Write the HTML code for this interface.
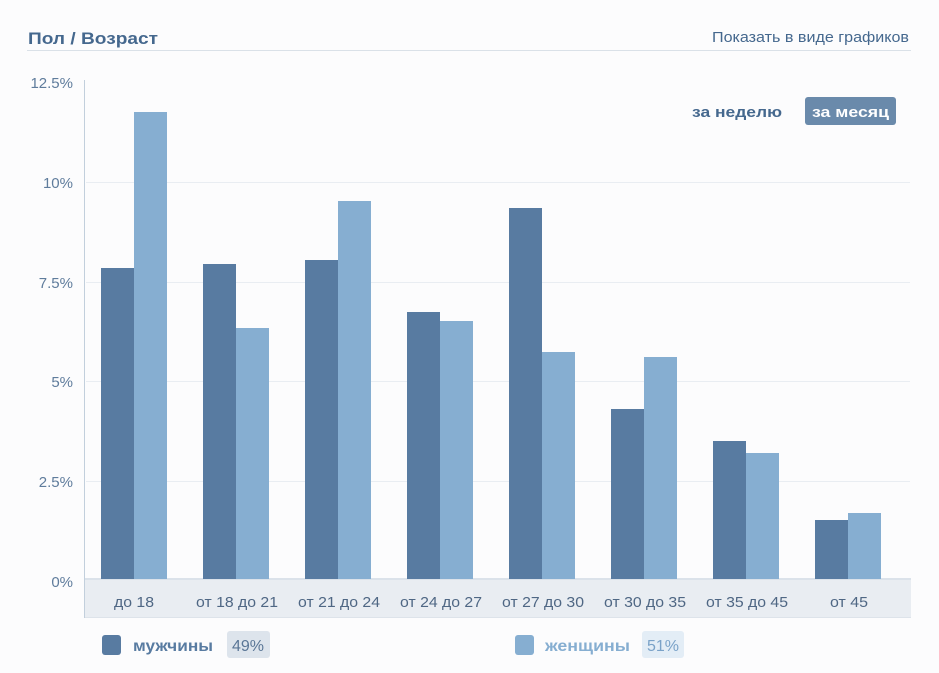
<!DOCTYPE html>
<html><head><meta charset="utf-8"><style>
body{margin:0;width:939px;height:668px;background:#fcfcfd;font-family:"Liberation Sans","DejaVu Sans",sans-serif;overflow:hidden}
</style></head><body>
<svg width="939" height="668" xmlns="http://www.w3.org/2000/svg" font-family="Liberation Sans, DejaVu Sans, sans-serif">
<rect width="939" height="668" fill="#fcfcfd"/>
<text x="28" y="44" font-size="17" font-weight="bold" fill="#45688e" textLength="130" lengthAdjust="spacingAndGlyphs">Пол / Возраст</text>
<text x="712" y="42" font-size="15" fill="#45688e" textLength="197" lengthAdjust="spacingAndGlyphs">Показать в виде графиков</text>
<rect x="27" y="50" width="884" height="1" fill="#dae1e8"/>
<g stroke="#e9edf2" stroke-width="1">
<line x1="86" y1="182.5" x2="910" y2="182.5"/>
<line x1="86" y1="282.5" x2="910" y2="282.5"/>
<line x1="86" y1="381.5" x2="910" y2="381.5"/>
<line x1="86" y1="481.5" x2="910" y2="481.5"/>
</g>
<rect x="85" y="578" width="826" height="40" fill="#e9edf2"/>
<rect x="85" y="578" width="826" height="2" fill="#dbe2ea"/>
<rect x="85" y="617" width="826" height="1" fill="#dde3ea"/>
<rect x="84" y="80" width="1" height="538" fill="#c2cfdc"/>
<g font-size="15" fill="#5f7c9c" text-anchor="end">
<text x="73" y="88">12.5%</text><text x="73" y="188">10%</text><text x="73" y="288">7.5%</text>
<text x="73" y="387">5%</text><text x="73" y="487">2.5%</text><text x="73" y="587">0%</text>
</g>
<g fill="#587ba1">
<rect x="101" y="268" width="33" height="311"/><rect x="203" y="264" width="33" height="315"/>
<rect x="305" y="260" width="33" height="319"/><rect x="407" y="312" width="33" height="267"/>
<rect x="509" y="208" width="33" height="371"/><rect x="611" y="409" width="33" height="170"/>
<rect x="713" y="441" width="33" height="138"/><rect x="815" y="520" width="33" height="59"/>
</g>
<g fill="#86aed1">
<rect x="134" y="112" width="33" height="467"/><rect x="236" y="328" width="33" height="251"/>
<rect x="338" y="201" width="33" height="378"/><rect x="440" y="321" width="33" height="258"/>
<rect x="542" y="352" width="33" height="227"/><rect x="644" y="357" width="33" height="222"/>
<rect x="746" y="453" width="33" height="126"/><rect x="848" y="513" width="33" height="66"/>
</g>
<g font-size="15" fill="#4f6784" text-anchor="middle" lengthAdjust="spacingAndGlyphs">
<text x="134" y="607" textLength="40" lengthAdjust="spacingAndGlyphs">до 18</text>
<text x="237" y="607" textLength="82" lengthAdjust="spacingAndGlyphs">от 18 до 21</text>
<text x="339" y="607" textLength="82" lengthAdjust="spacingAndGlyphs">от 21 до 24</text>
<text x="441" y="607" textLength="82" lengthAdjust="spacingAndGlyphs">от 24 до 27</text>
<text x="543" y="607" textLength="82" lengthAdjust="spacingAndGlyphs">от 27 до 30</text>
<text x="645" y="607" textLength="82" lengthAdjust="spacingAndGlyphs">от 30 до 35</text>
<text x="747" y="607" textLength="82" lengthAdjust="spacingAndGlyphs">от 35 до 45</text>
<text x="849" y="607" textLength="38" lengthAdjust="spacingAndGlyphs">от 45</text>
</g>
<text x="692" y="117" font-size="15" font-weight="bold" fill="#45688e" textLength="90" lengthAdjust="spacingAndGlyphs">за неделю</text>
<rect x="805" y="97" width="91" height="28" rx="3" fill="#6a8aab"/>
<text x="812" y="117" font-size="15" font-weight="bold" fill="#fff" textLength="77" lengthAdjust="spacingAndGlyphs">за месяц</text>
<rect x="102" y="635" width="19" height="20" rx="3" fill="#587ba1"/>
<text x="133" y="651" font-size="16" font-weight="bold" fill="#587ba1" textLength="80" lengthAdjust="spacingAndGlyphs">мужчины</text>
<rect x="227" y="631" width="43" height="27" rx="3" fill="#dde4ec"/>
<text x="248" y="651" font-size="16" fill="#5a7696" text-anchor="middle">49%</text>
<rect x="515" y="635" width="19" height="20" rx="3" fill="#86aed1"/>
<text x="545" y="651" font-size="16" font-weight="bold" fill="#86aed1" textLength="85" lengthAdjust="spacingAndGlyphs">женщины</text>
<rect x="642" y="631" width="42" height="27" rx="3" fill="#e3edf6"/>
<text x="663" y="651" font-size="16" fill="#7aa2c8" text-anchor="middle">51%</text>
</svg>
</body></html>
